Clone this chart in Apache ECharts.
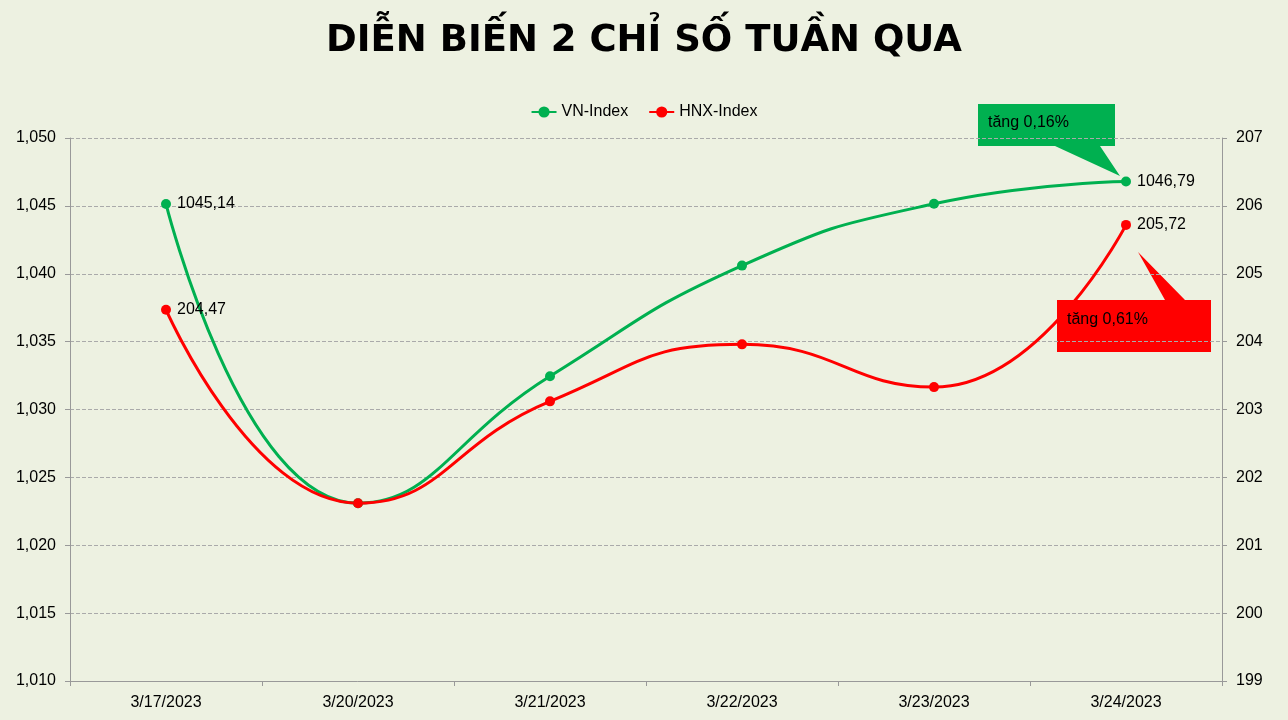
<!DOCTYPE html>
<html><head><meta charset="utf-8">
<script src="https://cdn.jsdelivr.net/npm/echarts@6/dist/echarts.min.js"></script>
<style>html,body{margin:0;padding:0;background:#EDF1E1}#c{width:1288px;height:720px}</style>
</head><body><div id="c"></div>
<script>
const categories = ['3/17/2023','3/20/2023','3/21/2023','3/22/2023','3/23/2023','3/24/2023'];
const vnIndex = [1045.14, 1023.1, 1032.45, 1040.6, 1045.15, 1046.79];
const hnxIndex = [204.47, 201.62, 203.12, 203.96, 203.33, 205.72];
const vnLabel = ['1045,14','','','','','1046,79'];
const hnxLabel = ['204,47','','','','','205,72'];
const font = 'Liberation Sans';
const chart = echarts.init(document.getElementById('c'));
function lbl(arr){return {show:true,position:'right',distance:6,color:'#000',fontSize:16,fontFamily:font,formatter:p=>arr[p.dataIndex]};}
chart.setOption({
  backgroundColor:'#EDF1E1',
  animation:false,
  title:{text:'DIỄN BIẾN 2 CHỈ SỐ TUẦN QUA',left:'center',top:18,textStyle:{fontSize:37,fontWeight:'bold',color:'#000',fontFamily:'DejaVu Sans'}},
  legend:{top:99,left:'center',itemGap:20,textStyle:{fontSize:16,fontFamily:font,color:'#000'},data:['VN-Index','HNX-Index']},
  grid:{left:70,right:66,top:138,bottom:39},
  xAxis:{type:'category',data:categories,boundaryGap:true,
    axisLine:{lineStyle:{color:'#999'}},axisTick:{show:true,lineStyle:{color:'#999'}},
    axisLabel:{color:'#000',fontSize:16,fontFamily:font,margin:14}},
  yAxis:[
    {type:'value',min:1010,max:1050,interval:5,axisLine:{show:true,lineStyle:{color:'#999'}},axisTick:{show:true,lineStyle:{color:'#999'}},
     axisLabel:{color:'#000',fontSize:16,fontFamily:font,margin:14},splitLine:{lineStyle:{color:'#aaa',type:'dashed'}}},
    {type:'value',min:199,max:207,interval:1,axisLine:{show:true,lineStyle:{color:'#999'}},axisTick:{show:true,lineStyle:{color:'#999'}},
     axisLabel:{color:'#000',fontSize:16,fontFamily:font,margin:14},splitLine:{show:false}}
  ],
  series:[
    {name:'VN-Index',type:'line',smooth:0.5,data:vnIndex,yAxisIndex:0,symbol:'circle',symbolSize:10,
     itemStyle:{color:'#00B050'},lineStyle:{width:3,color:'#00B050'},label:lbl(vnLabel)},
    {name:'HNX-Index',type:'line',smooth:0.5,data:hnxIndex,yAxisIndex:1,symbol:'circle',symbolSize:10,
     itemStyle:{color:'#FF0000'},lineStyle:{width:3,color:'#FF0000'},label:lbl(hnxLabel)}
  ],
  graphic:[
    {type:'polygon',shape:{points:[[978,104],[1115,104],[1115,146],[1100,146],[1120,176],[1055,146],[978,146]]},style:{fill:'#00B050'}},
    {type:'text',left:988,top:115,style:{text:'tăng 0,16%',fontSize:16,fontFamily:font,fill:'#000'}},
    {type:'polygon',shape:{points:[[1138,252],[1185,300],[1211,300],[1211,352],[1057,352],[1057,300],[1165,300]]},style:{fill:'#FF0000'}},
    {type:'rect',shape:{x:1057,y:300,width:154,height:52,r:6},style:{fill:'#FF0000'}},
    {type:'text',left:1067,top:312,style:{text:'tăng 0,61%',fontSize:16,fontFamily:font,fill:'#000'}}
  ]
});
</script></body></html>
